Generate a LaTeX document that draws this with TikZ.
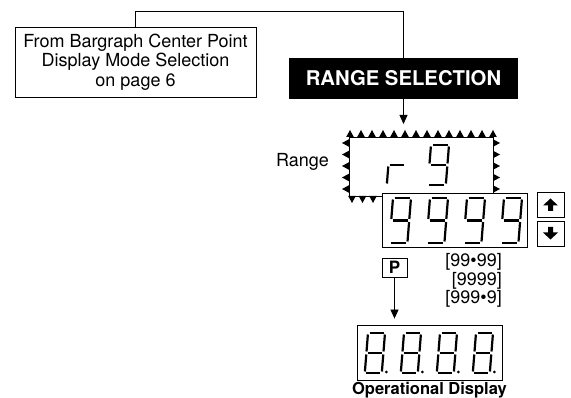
\documentclass[tikz,border=0pt]{standalone}
\usepackage{fontspec}
\setmainfont{TeX Gyre Heros}
\usetikzlibrary{arrows.meta, positioning}
\tikzstyle{box} = [rectangle, 
draw=black, 
line width=0.8pt, 
fill=white, 
align=center, 
inner sep=0pt]
\tikzstyle{title} = [rectangle, 
fill=black, 
text=white, 
inner sep=0pt, 
font=\fontsize{20.3}{24}\selectfont\bfseries]
\tikzstyle{lbl} = [inner sep=0pt, font=\fontsize{18}{19.5}\selectfont]
\tikzstyle{arrow} = [line width=0.8pt,-{Triangle[length=9pt,width=8pt]},draw=black]
\tikzstyle{seg} = [line width=2.2pt, line cap=butt]

% segmentos de un digito de 7 segmentos (origen arriba a la izquierda)
\def\sga{\draw[seg] (1.5,0) -- (\segw-1.5,0);}
\def\sgb{\draw[seg] (\segw,1.5) -- (\segw,\segh/2-1.5);}
\def\sgc{\draw[seg] (\segw,\segh/2+1.5) -- (\segw,\segh-1.5);}
\def\sgd{\draw[seg] (1.5,\segh) -- (\segw-1.5,\segh);}
\def\sge{\draw[seg] (0,\segh/2+1.5) -- (0,\segh-1.5);}
\def\sgf{\draw[seg] (0,1.5) -- (0,\segh/2-1.5);}
\def\sgg{\draw[seg] (1.5,\segh/2) -- (\segw-1.5,\segh/2);}
\def\sgp{\fill (\segw+4.5,\segh-1) circle (1.5);}
\newcommand{\segdigit}[4]{%
  \begin{scope}[shift={#1}, xslant=0.08]
    \def\segw{#2}\def\segh{#3}
    \foreach \s in {#4} {\csname sg\s\endcsname}
  \end{scope}}

\begin{document}
\begin{tikzpicture}[x=1pt, y=-1pt]
        \useasboundingbox (0,0) rectangle (571,398);

        % Nodos
        \node [box, minimum width=241, minimum height=70, font=\fontsize{18}{19.5}\selectfont] (bargraph) at (135.5,62) {From Bargraph Center Point\\ Display Mode Selection\\ on page 6};
        \node [title, minimum width=229, minimum height=41] (rangesel) at (403.5,78.5) {RANGE SELECTION};
        \coordinate (flashtop) at (403.5,124);
        \node [lbl] (rangelbl) at (302.5,162) {Range};

        % Marco intermitente
        \draw [line width=0.4pt] (349,137) rectangle (493,196);
        \foreach \k in {0,...,13} {\fill ({350+\k*11},137) -- ++(3.8,0) -- ++(-3.8,-7) -- ++(-3.8,7) -- cycle;}
        \foreach \k in {0,...,4} {\fill (349,{143+\k*11.5}) -- ++(0,-3.8) -- ++(-7,3.8) -- ++(7,3.8) -- cycle;}
        \foreach \k in {0,...,4} {\fill (493,{143+\k*11.5}) -- ++(0,-3.8) -- ++(7,3.8) -- ++(-7,3.8) -- cycle;}
        \foreach \k in {0,1,2} {\fill ({352+\k*10.5},196) -- ++(3.8,0) -- ++(-3.8,7) -- ++(-3.8,-7) -- cycle;}
        \segdigit{(390,145)}{17}{40}{e,g}
        \segdigit{(431,145)}{18}{40}{a,b,c,d,f,g}

        \node [box, minimum width=145, minimum height=54] (valbox) at (454.5,220) {};
        \node [box, minimum width=27, minimum height=25] (upkey) at (550.5,204.5) {};
        \node [box, minimum width=27, minimum height=25] (downkey) at (550.5,233.5) {};
        \node [box, minimum width=25, minimum height=19, font=\fontsize{17}{17}\selectfont\bfseries] (pkey) at (394.5,267.5) {P};
        \node [lbl, anchor=base east] (dp1) at (502,267) {[99\textbullet99]};
        \node [lbl, anchor=base east] (dp2) at (502,285.5) {[9999]};
        \node [lbl, anchor=base east] (dp3) at (502,304) {[999\textbullet9]};
        \node [box, minimum width=145, minimum height=55] (opdisp) at (429.5,352.5) {};
        \node [inner sep=0pt, anchor=base, font=\fontsize{16.5}{18}\selectfont\bfseries] (oplbl) at (429.5,394.5) {Operational Display};

        % Digitos
        \foreach \x in {393,430,467,504} {\segdigit{(\x,198)}{18}{45}{a,b,c,d,f,g}}
        \foreach \x in {368,404,440,476} {\segdigit{(\x,333)}{17}{40}{a,b,c,d,e,f,g,p}}

        % Flechas de las teclas
        \fill (upkey.center) ++(0,-6) -- ++(7.5,7) -- ++(-5,0) -- ++(0,5.5) -- ++(-5,0) -- ++(0,-5.5) -- ++(-5,0) -- cycle;
        \fill (downkey.center) ++(0,6) -- ++(7.5,-7) -- ++(-5,0) -- ++(0,-5.5) -- ++(-5,0) -- ++(0,5.5) -- ++(-5,0) -- cycle;

        % Conexiones
        \draw [line width=0.8pt] (bargraph.north) -- ++(0,-15) -| (rangesel.north);
        \path [arrow] (rangesel.south) -- (flashtop);
        \path [arrow, shorten >=6pt] (pkey.south) -- (pkey.south |- opdisp.north);
    \end{tikzpicture}
\end{document}
